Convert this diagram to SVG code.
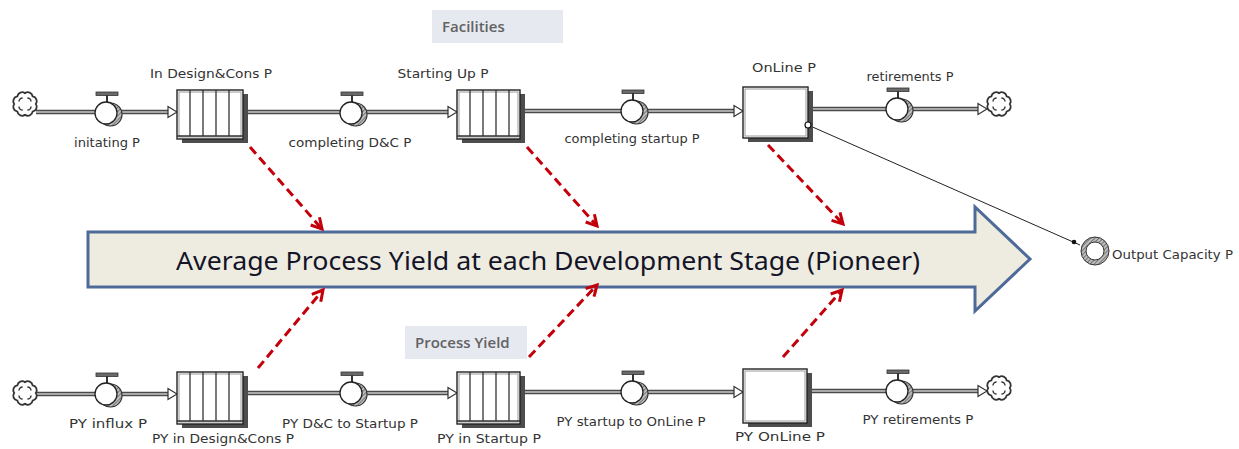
<svg xmlns="http://www.w3.org/2000/svg" width="1239" height="449" viewBox="0 0 1239 449">
  <defs>
    <style>
      .lbl { font-family: "DejaVu Sans", "Liberation Sans", sans-serif; font-size: 13px; fill: #333; text-anchor: middle; }
      .tag { font-family: "Open Sans", "Liberation Sans", sans-serif; font-size: 15px; font-weight: 600; fill: #626262; }
      .tagbox { fill: #e7e9f1; }
      .pipe { stroke: #4a4a4a; stroke-width: 4.5; fill: none; }
      .pipein { stroke: #c8c8c8; stroke-width: 1.4; fill: none; }
      .inhead { fill: #fff; stroke: #333; stroke-width: 1.2; }
      .shadow { fill: #4d4d4d; }
      .stock { fill: #fff; stroke: #222; stroke-width: 1.4; }
      .stockin { fill: none; stroke: #9a9a9a; stroke-width: 1; }
      .slat { stroke: #333; stroke-width: 1.3; }
      .influence { stroke: #c3000a; stroke-width: 3; stroke-dasharray: 9 5; fill: none; marker-end: url(#redhead); }
      .link { stroke: #222; stroke-width: 1; fill: none; }
    </style>
    <marker id="redhead" viewBox="0 0 12 12" refX="10" refY="6" markerWidth="14" markerHeight="14" markerUnits="userSpaceOnUse" orient="auto">
      <path d="M1,1 L10,6 L1,11" fill="none" stroke="#c3000a" stroke-width="2.6"/>
    </marker>
    <pattern id="hatch" width="3" height="3" patternUnits="userSpaceOnUse" patternTransform="rotate(45)">
      <rect width="3" height="3" fill="#bdbdbd"/>
      <line x1="0" y1="0" x2="0" y2="3" stroke="#444" stroke-width="1.2"/>
    </pattern>
    <!-- flow valve, origin at the circle centre -->
    <g id="valve">
      <rect x="-11" y="-21" width="22" height="3.5" fill="#6a6a6a" stroke="#333" stroke-width="0.8"/>
      <line x1="0" y1="-18" x2="0" y2="-11" stroke="#333" stroke-width="2"/>
      <circle cx="3.5" cy="1.5" r="11.5" fill="url(#hatch)" stroke="#333" stroke-width="1.2"/>
      <circle cx="-1" cy="0" r="11" fill="#fff" stroke="#222" stroke-width="1.3"/>
    </g>
    <!-- source / sink cloud -->
    <g id="cloud">
      <g transform="scale(1.2)">
        <path d="M9,0 A4 4 0 0 1 6.36,6.36 A4 4 0 0 1 0,9 A4 4 0 0 1 -6.36,6.36 A4 4 0 0 1 -9,0 A4 4 0 0 1 -6.36,-6.36 A4 4 0 0 1 0,-9 A4 4 0 0 1 6.36,-6.36 A4 4 0 0 1 9,0 Z" fill="#fff" stroke="#333" stroke-width="1.5"/>
        <path d="M-5,-2 A3 3 0 0 1 -2,-5 M2,-5 A3 3 0 0 1 5,-2 M5,2 A3 3 0 0 1 2,5 M-2,5 A3 3 0 0 1 -5,2" fill="none" stroke="#333" stroke-width="1.2"/>
      </g>
    </g>
    <!-- hollow arrowhead entering a stock, tip at origin -->
    <path id="head" d="M0,0 L-9,-5.5 L-9,5.5 Z"/>
  </defs>

  <rect width="1239" height="449" fill="#fff"/>

  <!-- section tags -->
  <g id="tag-facilities">
    <rect class="tagbox" x="432" y="10" width="131" height="33"/>
    <text class="tag" x="442" y="32">Facilities</text>
  </g>
  <g id="tag-process-yield">
    <rect class="tagbox" x="405" y="326" width="122" height="33"/>
    <text class="tag" x="415" y="348">Process Yield</text>
  </g>

  <!-- central stage arrow -->
  <g id="stage-arrow">
    <path d="M88,232 L975,232 L975,207 L1030,259 L975,311 L975,287 L88,287 Z" fill="#eeece1" stroke="#4d6a98" stroke-width="3" stroke-linejoin="miter"/>
    <text x="548" y="270" font-family="Noto Sans, Liberation Sans, sans-serif" font-size="25" fill="#141428" text-anchor="middle" textLength="744" lengthAdjust="spacingAndGlyphs">Average Process Yield at each Development Stage (Pioneer)</text>
  </g>

  <!-- flow pipes and influence links -->
  <g id="connectors">
    <!-- top chain -->
    <path class="pipe" d="M36,112 L169,112 M248,112 L449,112 M525,111 L735,111 M813,109 L979,109"/>
    <path class="pipein" d="M36,112 L169,112 M248,112 L449,112 M525,111 L735,111 M813,109 L979,109"/>
    <use href="#head" class="inhead" x="177" y="112"/>
    <use href="#head" class="inhead" x="457" y="112"/>
    <use href="#head" class="inhead" x="743" y="111"/>
    <use href="#head" class="inhead" x="987" y="109"/>
    <!-- bottom chain -->
    <path class="pipe" d="M36,394 L169,394 M248,393 L449,393 M525,392 L735,392 M812,391 L979,391"/>
    <path class="pipein" d="M36,394 L169,394 M248,393 L449,393 M525,392 L735,392 M812,391 L979,391"/>
    <use href="#head" class="inhead" x="177" y="394"/>
    <use href="#head" class="inhead" x="457" y="393"/>
    <use href="#head" class="inhead" x="743" y="392"/>
    <use href="#head" class="inhead" x="987" y="391"/>
    <!-- capacity link -->
    <path class="link" d="M808,125 L1080,245"/>
    <circle cx="1074" cy="242" r="2.3" fill="#111"/>
    <!-- influence arrows -->
    <path class="influence" d="M250,147 L322,229"/>
    <path class="influence" d="M527,147 L597,226"/>
    <path class="influence" d="M768,145 L843,224"/>
    <path class="influence" d="M258,368 L323,290"/>
    <path class="influence" d="M529,357 L597,285"/>
    <path class="influence" d="M783,357 L842,290"/>
  </g>

  <!-- top chain: Facilities -->
  <g id="src-top"><use href="#cloud" x="25" y="104"/></g>
  <g id="initating-P">
    <use href="#valve" x="107" y="113"/>
    <text class="lbl" x="107" y="147" textLength="66" lengthAdjust="spacingAndGlyphs">initating P</text>
  </g>
  <g id="in-design-cons-P">
    <rect class="shadow" x="182" y="94" width="66" height="49"/>
    <rect class="stock" x="177" y="90" width="66" height="49"/>
    <rect class="stockin" x="179" y="92" width="62" height="45"/>
    <path class="slat" d="M190,90 V136 M203,90 V136 M216,90 V136 M229,90 V136 M177,136 H243"/>
    <text class="lbl" x="211" y="78" textLength="122" lengthAdjust="spacingAndGlyphs">In Design&amp;Cons P</text>
  </g>
  <g id="completing-DC-P">
    <use href="#valve" x="352" y="113"/>
    <text class="lbl" x="350" y="147" textLength="123" lengthAdjust="spacingAndGlyphs">completing D&amp;C P</text>
  </g>
  <g id="starting-up-P">
    <rect class="shadow" x="462" y="94" width="63" height="49"/>
    <rect class="stock" x="457" y="90" width="63" height="49"/>
    <rect class="stockin" x="459" y="92" width="59" height="45"/>
    <path class="slat" d="M470,90 V136 M483,90 V136 M496,90 V136 M509,90 V136 M457,136 H520"/>
    <text class="lbl" x="443" y="78" textLength="91" lengthAdjust="spacingAndGlyphs">Starting Up P</text>
  </g>
  <g id="completing-startup-P">
    <use href="#valve" x="633" y="111"/>
    <text class="lbl" x="632" y="143" textLength="135" lengthAdjust="spacingAndGlyphs">completing startup P</text>
  </g>
  <g id="online-P">
    <rect class="shadow" x="748" y="91" width="65" height="51"/>
    <rect class="stock" x="743" y="87" width="65" height="51"/>
    <rect class="stockin" x="745" y="89" width="61" height="47"/>
    <circle cx="808" cy="125" r="3" fill="#fff" stroke="#111" stroke-width="1.2"/>
    <text class="lbl" x="784" y="72" textLength="64" lengthAdjust="spacingAndGlyphs">OnLine P</text>
  </g>
  <g id="retirements-P">
    <use href="#valve" x="898" y="109"/>
    <text class="lbl" x="910" y="81" textLength="87" lengthAdjust="spacingAndGlyphs">retirements P</text>
  </g>
  <g id="sink-top"><use href="#cloud" x="999" y="104"/></g>

  <g id="output-capacity-P">
    <circle cx="1095" cy="251" r="11.5" fill="#fff" stroke="url(#hatch)" stroke-width="5"/>
    <circle cx="1095" cy="251" r="14" fill="none" stroke="#333" stroke-width="1"/>
    <circle cx="1095" cy="251" r="9" fill="none" stroke="#333" stroke-width="1"/>
    <text class="lbl" x="1112" y="259" style="text-anchor:start" textLength="121" lengthAdjust="spacingAndGlyphs">Output Capacity P</text>
  </g>

  <!-- bottom chain: Process Yield -->
  <g id="src-bottom"><use href="#cloud" x="25" y="393"/></g>
  <g id="py-influx-P">
    <use href="#valve" x="107" y="394"/>
    <text class="lbl" x="108" y="428" textLength="78" lengthAdjust="spacingAndGlyphs">PY influx P</text>
  </g>
  <g id="py-in-design-cons-P">
    <rect class="shadow" x="182" y="376" width="66" height="52"/>
    <rect class="stock" x="177" y="372" width="66" height="52"/>
    <rect class="stockin" x="179" y="374" width="62" height="48"/>
    <path class="slat" d="M190,372 V421 M203,372 V421 M216,372 V421 M229,372 V421 M177,421 H243"/>
    <text class="lbl" x="223" y="443" textLength="142" lengthAdjust="spacingAndGlyphs">PY in Design&amp;Cons P</text>
  </g>
  <g id="py-dc-to-startup-P">
    <use href="#valve" x="352" y="393"/>
    <text class="lbl" x="350" y="428" textLength="136" lengthAdjust="spacingAndGlyphs">PY D&amp;C to Startup P</text>
  </g>
  <g id="py-in-startup-P">
    <rect class="shadow" x="462" y="376" width="63" height="52"/>
    <rect class="stock" x="457" y="372" width="63" height="52"/>
    <rect class="stockin" x="459" y="374" width="59" height="48"/>
    <path class="slat" d="M470,372 V421 M483,372 V421 M496,372 V421 M509,372 V421 M457,421 H520"/>
    <text class="lbl" x="489" y="443" textLength="104" lengthAdjust="spacingAndGlyphs">PY in Startup P</text>
  </g>
  <g id="py-startup-to-online-P">
    <use href="#valve" x="633" y="392"/>
    <text class="lbl" x="631" y="426" textLength="149" lengthAdjust="spacingAndGlyphs">PY startup to OnLine P</text>
  </g>
  <g id="py-online-P">
    <rect class="shadow" x="748" y="373" width="64" height="54"/>
    <rect class="stock" x="743" y="369" width="64" height="54"/>
    <rect class="stockin" x="745" y="371" width="60" height="50"/>
    <text class="lbl" x="780" y="441" textLength="90" lengthAdjust="spacingAndGlyphs">PY OnLine P</text>
  </g>
  <g id="py-retirements-P">
    <use href="#valve" x="898" y="391"/>
    <text class="lbl" x="918" y="424" textLength="111" lengthAdjust="spacingAndGlyphs">PY retirements P</text>
  </g>
  <g id="sink-bottom"><use href="#cloud" x="999" y="388"/></g>
</svg>
